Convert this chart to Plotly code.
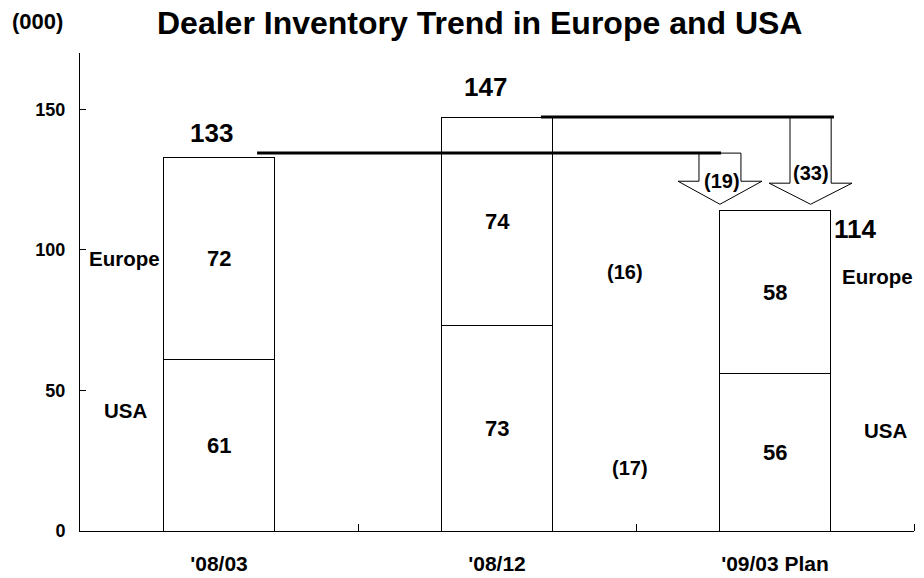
import plotly.graph_objects as go

# ---- data ----
categories = ["'08/03", "'08/12", "'09/03 Plan"]
usa = [61, 73, 56]
europe = [72, 74, 58]
totals = [133, 147, 114]
region_labels = ["Europe", "USA"]
europe_change_label = "(16)"
usa_change_label = "(17)"
drop_from_first_label = "(19)"
drop_from_second_label = "(33)"
y_ticks = [0, 50, 100, 150]
title_text = "Dealer Inventory Trend in Europe and USA"
unit_text = "(000)"

FONT = "Liberation Sans, Arial, sans-serif"
x = list(range(len(categories)))

fig = go.Figure()
bar_style = dict(
    marker=dict(color="white", line=dict(color="black", width=1)),
    width=0.4, hoverinfo="skip", showlegend=False,
)
fig.add_trace(go.Bar(x=x, y=usa, name="USA", **bar_style))
fig.add_trace(go.Bar(x=x, y=europe, name="Europe", **bar_style))


def txt(xv, yv, s, size, xanchor="center", xref="x", yref="y"):
    return dict(x=xv, y=yv, text=s, showarrow=False, xref=xref, yref=yref,
                xanchor=xanchor, yanchor="middle",
                font=dict(family=FONT, size=size, color="black", weight="bold"))


ann = []
# values inside bars
for i in x:
    ann.append(txt(x[i], usa[i] / 2, str(usa[i]), 22))
    ann.append(txt(x[i], usa[i] + europe[i] / 2, str(europe[i]), 22))
# totals
ann.append(txt(x[0] - 0.027, totals[0] + 8.5, str(totals[0]), 26))
ann.append(txt(x[1] - 0.043, totals[1] + 10.9, str(totals[1]), 26))
ann.append(txt(x[2] + 0.205, totals[2] - 6.6, str(totals[2]), 26, xanchor="left"))
# region labels
ann.append(txt(x[0] - 0.34, usa[0] + europe[0] / 2, region_labels[0], 20.5))
ann.append(txt(x[0] - 0.335, 42.7, region_labels[1], 20.5))
ann.append(txt(x[2] + 0.367, 90.6, region_labels[0], 20.5))
ann.append(txt(x[2] + 0.399, 35.9, region_labels[1], 20.5))
# changes
ann.append(txt(1.46, 92, europe_change_label, 20))
ann.append(txt(1.48, 22.4, usa_change_label, 20))
ann.append(txt(1.81, 124.4, drop_from_first_label, 20))
ann.append(txt(2.13, 127.3, drop_from_second_label, 20))
# unit label and title (paper coords, relative to plot area)
ann.append(txt(-0.0504, 1.065, unit_text, 22, xref="paper", yref="paper"))
ann.append(txt(0.479, 1.063, title_text, 32, xref="paper", yref="paper"))


def arrow(xc, top, base, tip, shw, hhw):
    return (f"M {xc - shw},{top} L {xc + shw},{top} L {xc + shw},{base} "
            f"L {xc + hhw},{base} L {xc},{tip} L {xc - hhw},{base} "
            f"L {xc - shw},{base} Z")


lvl1 = totals[0] + 1.4
lvl2 = totals[1] + 0.2
tip = totals[2] + 2.2
shapes = [
    dict(type="path", path=arrow(1.802, lvl1, 124.4, tip, 0.0755, 0.151),
         fillcolor="white", line=dict(color="black", width=1), xref="x", yref="y"),
    dict(type="path", path=arrow(2.128, lvl2, 123.7, tip, 0.074, 0.149),
         fillcolor="white", line=dict(color="black", width=1), xref="x", yref="y"),
    dict(type="line", x0=0.137, x1=1.806, y0=lvl1, y1=lvl1, xref="x", yref="y",
         line=dict(color="black", width=3)),
    dict(type="line", x0=1.158, x1=2.212, y0=lvl2, y1=lvl2, xref="x", yref="y",
         line=dict(color="black", width=3)),
]

fig.update_layout(
    barmode="stack",
    width=924, height=578,
    margin=dict(l=80, r=10, t=53, b=47),
    paper_bgcolor="white", plot_bgcolor="white",
    font=dict(family=FONT, color="black"),
    annotations=ann,
    shapes=shapes,
    xaxis=dict(range=[-0.5, len(categories) - 0.5], tickmode="array", tickvals=x,
               ticktext=categories, ticks="", showline=True, linecolor="black",
               linewidth=1, showgrid=False, zeroline=False, automargin=False,
               tickfont=dict(family=FONT, size=21, color="black", weight="bold"),
               ticklabelstandoff=14,
               minor=dict(tickmode="array", tickvals=[v + 0.5 for v in x],
                          ticks="inside", ticklen=7, tickcolor="black", showgrid=False)),
    yaxis=dict(range=[0, 170], tickmode="array", tickvals=y_ticks, ticks="inside",
               ticklen=6, tickcolor="black", showline=True, linecolor="black",
               linewidth=1, showgrid=False, zeroline=False, automargin=False,
               tickfont=dict(family=FONT, size=18, color="black", weight="bold"),
               ticklabelstandoff=10),
)

fig.write_html(
    "out.html",
    config={"displayModeBar": False},
    post_script="document.body.style.margin='0';document.body.style.overflow='hidden';",
)
